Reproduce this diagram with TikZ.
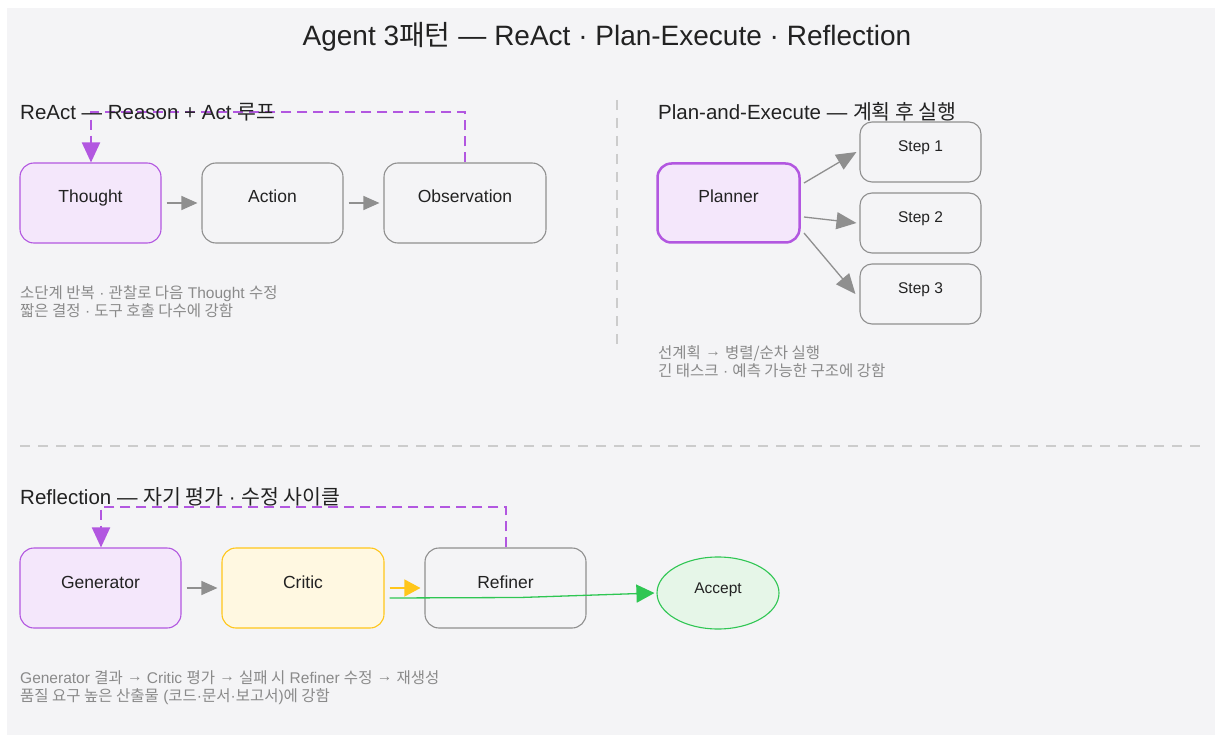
\documentclass[tikz,border=0pt]{standalone}
\usepackage{fontspec}
\setmainfont{Liberation Sans}
\newfontfamily\krf{Noto Sans CJK KR}
\newcommand\kr[1]{{\krf #1}}
\newcommand\toarr{\raisebox{1.5pt}{→}}
\usetikzlibrary{arrows.meta,shapes.geometric}
\definecolor{bgpanel}{HTML}{F4F4F6}
\definecolor{ink}{HTML}{222222}
\definecolor{note}{HTML}{8A8A8A}
\definecolor{edge}{HTML}{8F8F8F}
\definecolor{purp}{HTML}{B257E0}
\definecolor{purpfill}{HTML}{F4E7FB}
\definecolor{gold}{HTML}{FFC61A}
\definecolor{goldfill}{HTML}{FFF8E1}
\definecolor{grn}{HTML}{2FC653}
\definecolor{grnfill}{HTML}{E6F6E8}
\definecolor{sep}{HTML}{CCCCCC}
\tikzset{
  box/.style={draw=edge, line width=1.1pt, fill=bgpanel, rounded corners=14pt,
    text=ink, font=\fontsize{17.5}{20}\selectfont, inner sep=0pt,
    text height=12.5pt, text depth=12.5pt},
  purpbox/.style={box, draw=purp, fill=purpfill},
  goldbox/.style={box, draw=gold, fill=goldfill},
  stepbox/.style={box, rounded corners=12pt, font=\fontsize{15.5}{18}\selectfont,
    text height=11pt, text depth=11pt},
  heading/.style={anchor=west, text=ink, font=\fontsize{20.5}{24}\selectfont, inner sep=0pt},
  notes/.style={anchor=north west, align=left, text=note, font=\fontsize{15.5}{18.5}\selectfont, inner sep=0pt},
  flow/.style={draw=edge, line width=1.3pt, -{Triangle[length=16pt,width=14pt]}},
  fan/.style={draw=edge, line width=1.3pt, -{Triangle[length=20pt,width=17pt]}},
  loop/.style={draw=purp, line width=2pt, dash pattern=on 10pt off 6pt, -{Triangle[length=20pt,width=18pt]}},
  divider/.style={draw=sep, line width=1.5pt, dash pattern=on 10pt off 8pt},
}
\begin{document}
\begin{tikzpicture}[x=1pt,y=-1pt]
\useasboundingbox (0,0) rectangle (1215,735);
\fill[white] (0,0) rectangle (1215,735);
\fill[bgpanel] (7,8) rectangle (1215,735);

% title
\node[text=ink, font=\fontsize{28}{32}\selectfont, inner sep=0pt] (title) at (607,37)
  {Agent 3\kr{패턴} — ReAct · Plan-Execute · Reflection};

% dividers
\coordinate (vtop) at (617,100);
\coordinate (vbot) at (617,350);
\draw[divider] (vtop) -- (vbot);
\coordinate (hl) at (20,446);
\coordinate (hr) at (1205,446);
\draw[divider] (hl) -- (hr);

% ---- ReAct ----
\node[purpbox, minimum width=141pt, minimum height=80pt] (thought) at (90.5,203) {Thought};
\node[box, minimum width=141pt, minimum height=80pt] (action) at (272.5,203) {Action};
\node[box, minimum width=162pt, minimum height=80pt] (obs) at (465,203) {Observation};
\draw[flow] ([xshift=5pt]thought.east) -- ([xshift=-4pt]action.west);
\draw[flow] ([xshift=5pt]action.east) -- ([xshift=-4pt]obs.west);
\coordinate (rloopR) at (465,112);
\coordinate (rloopL) at (91,112);
\draw[loop] (obs.north) -- (rloopR) -- (rloopL) -- (thought.north -| rloopL);
\node[heading] (hreact) at (20,112) {ReAct — Reason + Act \kr{루프}};
\node[notes] (nreact) at (20,285)
  {\kr{소단계 반복} · \kr{관찰로 다음} Thought \kr{수정}\\\kr{짧은 결정} · \kr{도구 호출 다수에 강함}};

% ---- Plan-and-Execute ----
\node[heading] (hplan) at (658,112) {Plan-and-Execute — \kr{계획 후 실행}};
\node[purpbox, line width=2.5pt, minimum width=142pt, minimum height=79pt] (planner) at (728.5,203) {Planner};
\node[stepbox, minimum width=121pt, minimum height=60pt] (s1) at (920.5,152) {Step 1};
\node[stepbox, minimum width=121pt, minimum height=60pt] (s2) at (920.5,223) {Step 2};
\node[stepbox, minimum width=121pt, minimum height=60pt] (s3) at (920.5,294) {Step 3};
\coordinate (p1) at (804,183);
\coordinate (p2) at (804,217);
\coordinate (p3) at (804,233);
\draw[fan] (p1) -- ([xshift=-3pt]s1.west);
\draw[fan] (p2) -- ([xshift=-3pt]s2.west);
\draw[fan] (p3) -- ([xshift=-4pt]s3.west);
\node[notes] (nplan) at (658,345)
  {\kr{선계획} \toarr{} \kr{병렬/순차 실행}\\\kr{긴 태스크} · \kr{예측 가능한 구조에 강함}};

% ---- Reflection ----
\node[purpbox, minimum width=161pt, minimum height=80pt] (gen) at (100.5,588) {Generator};
\node[goldbox, minimum width=162pt, minimum height=80pt] (critic) at (303,588) {Critic};
\node[box, minimum width=161pt, minimum height=80pt] (refiner) at (505.5,588) {Refiner};
\node[ellipse, draw=grn, line width=1.1pt, fill=grnfill, minimum width=122pt, minimum height=72pt,
  inner sep=0pt, text=ink, font=\fontsize{15.5}{18}\selectfont,
  text height=11pt, text depth=11pt] (accept) at (718,593) {Accept};
\draw[flow] ([xshift=5pt]gen.east) -- ([xshift=-4pt]critic.west);
\draw[draw=gold, line width=1.3pt, -{Triangle[length=16pt,width=17pt]}]
  ([xshift=5pt]critic.east) -- ([xshift=-4pt]refiner.west);
\coordinate (gbend) at (520,597.5);
\draw[draw=grn, line width=1.3pt, -{Triangle[length=18pt,width=18pt]}]
  ([xshift=5pt,yshift=-10pt]critic.east) -- (gbend) -- ([xshift=-2pt]accept.west);
\coordinate (floopR) at (506,507);
\coordinate (floopL) at (101,507);
\draw[loop] (refiner.north -| floopR) -- (floopR) -- (floopL) -- (gen.north -| floopL);
\node[heading] (hrefl) at (20,497) {Reflection — \kr{자기 평가} · \kr{수정 사이클}};
\node[notes] (nrefl) at (20,670)
  {Generator \kr{결과} \toarr{} Critic \kr{평가} \toarr{} \kr{실패 시} Refiner \kr{수정} \toarr{} \kr{재생성}\\\kr{품질 요구 높은 산출물} (\kr{코드}·\kr{문서}·\kr{보고서})\kr{에 강함}};
\end{tikzpicture}
\end{document}
